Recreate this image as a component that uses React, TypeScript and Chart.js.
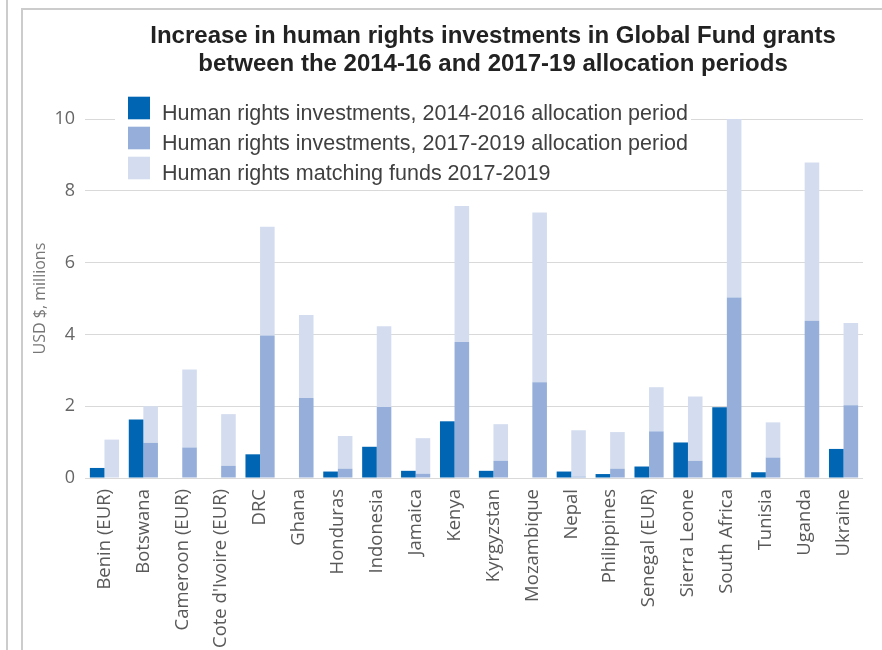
import React, { useEffect, useRef } from "react";
import { Chart, registerables } from "chart.js";

Chart.register(...registerables);

const categories = [
  "Benin (EUR)",
  "Botswana",
  "Cameroon (EUR)",
  "Cote d'Ivoire (EUR)",
  "DRC",
  "Ghana",
  "Honduras",
  "Indonesia",
  "Jamaica",
  "Kenya",
  "Kyrgyzstan",
  "Mozambique",
  "Nepal",
  "Philippines",
  "Senegal (EUR)",
  "Sierra Leone",
  "South Africa",
  "Tunisia",
  "Uganda",
  "Ukraine",
];

const investments2014to2016 = [
  0.28, 1.63, 0, 0, 0.66, 0, 0.18, 0.87, 0.2, 1.58, 0.2, 0, 0.18, 0.11, 0.32, 0.99, 1.97, 0.16, 0, 0.81,
];

const investments2017to2019 = [
  0, 0.98, 0.85, 0.34, 3.97, 2.23, 0.26, 1.98, 0.12, 3.79, 0.48, 2.67, 0.04, 0.26, 1.3, 0.48, 5.03, 0.57, 4.38, 2.03,
];

const matchingFunds2017to2019 = [
  1.07, 1.02, 2.17, 1.44, 3.03, 2.31, 0.91, 2.25, 0.99, 3.79, 1.02, 4.73, 1.29, 1.02, 1.23, 1.79, 4.97, 0.98, 4.41, 2.29,
];

const seriesLabels = [
  "Human rights investments, 2014-2016 allocation period",
  "Human rights investments, 2017-2019 allocation period",
  "Human rights matching funds 2017-2019",
];

const seriesColors = ["#0065b3", "#95afda", "#d4ddef"];

const yTicks = [0, 2, 4, 6, 8, 10];

const titleLines = [
  "Increase in human rights investments in Global Fund grants",
  "between the 2014-16 and 2017-19 allocation periods",
];

const yAxisTitle = "USD $, millions";

const titleShiftPlugin = {
  id: "titleShift",
  afterLayout(chart: any) {
    const t = chart.titleBlock;
    if (t) {
      t.left += 38;
    }
  },
};

const legendPlugin = {
  id: "customLegend",
  afterDraw(chart: any) {
    const ctx = chart.ctx;
    ctx.save();
    ctx.fillStyle = "#ffffff";
    ctx.fillRect(92, 83, 576, 95);
    chart.data.datasets.forEach((ds: any, i: number) => {
      const base = 110 + i * 30;
      ctx.fillStyle = ds.backgroundColor;
      ctx.fillRect(105, base - 23.3, 22, 22.6);
      ctx.fillStyle = "#404040";
      ctx.font = "21.5px 'Liberation Sans', Arial, sans-serif";
      ctx.textBaseline = "alphabetic";
      ctx.textAlign = "left";
      ctx.fillText(ds.label, 139, base);
    });
    ctx.restore();
  },
};

export default function App() {
  const canvasRef = useRef<HTMLCanvasElement | null>(null);

  useEffect(() => {
    if (!canvasRef.current) return;
    const chart = new Chart(canvasRef.current, {
      type: "bar",
      data: {
        labels: categories,
        datasets: [
          {
            label: seriesLabels[0],
            data: investments2014to2016,
            backgroundColor: seriesColors[0],
            stack: "previous",
            borderWidth: 0,
          },
          {
            label: seriesLabels[1],
            data: investments2017to2019,
            backgroundColor: seriesColors[1],
            stack: "current",
            borderWidth: 0,
          },
          {
            label: seriesLabels[2],
            data: matchingFunds2017to2019,
            backgroundColor: seriesColors[2],
            stack: "current",
            borderWidth: 0,
          },
        ],
      },
      options: {
        responsive: false,
        animation: false,
        layout: { padding: { left: 0, right: 19, top: 0, bottom: 0 } },
        datasets: {
          bar: {
            categoryPercentage: 0.75,
            barPercentage: 1.0,
          },
        },
        plugins: {
          legend: { display: false },
          tooltip: { enabled: false },
          title: {
            display: true,
            text: titleLines,
            fullSize: false,
            color: "#222222",
            font: { family: "'Liberation Sans', Arial, sans-serif", size: 24, weight: "bold", lineHeight: 1.19 },
            padding: { top: 12, bottom: 40 },
          },
        },
        scales: {
          x: {
            stacked: true,
            grid: { display: false, drawTicks: false },
            border: { display: false },
            ticks: {
              autoSkip: false,
              maxRotation: 90,
              minRotation: 90,
              padding: 11,
              color: "#595959",
              font: { family: "'Open Sans', sans-serif", size: 18.5 },
            },
            afterFit: (scale: any) => {
              scale.height = 232;
            },
          },
          y: {
            stacked: true,
            min: 0,
            max: 10,
            grid: { color: "#d9d9d9", lineWidth: 1, drawTicks: false },
            border: { display: false },
            afterBuildTicks: (scale: any) => {
              scale.ticks = yTicks.map((v) => ({ value: v }));
            },
            ticks: {
              padding: 10,
              color: "#666666",
              font: { family: "'Open Sans', sans-serif", size: 18 },
            },
            title: {
              display: true,
              text: yAxisTitle,
              color: "#777777",
              font: { family: "'Open Sans', sans-serif", size: 16, lineHeight: 1.2 },
              padding: { top: 8, bottom: 0 },
            },
            afterFit: (scale: any) => {
              scale.width = 62;
            },
          },
        },
      },
      plugins: [titleShiftPlugin, legendPlugin],
    });
    return () => chart.destroy();
  }, []);

  return (
    <div
      style={{
        position: "fixed",
        left: 0,
        top: 0,
        width: 882,
        height: 650,
        overflow: "hidden",
        background: "#ffffff",
      }}
    >
      <div style={{ position: "absolute", left: 6, top: 0, width: 2, height: 650, background: "#cccccc" }} />
      <div
        style={{
          position: "absolute",
          left: 21,
          top: 8,
          width: 861,
          height: 642,
          borderLeft: "2px solid #cccccc",
          borderTop: "2px solid #cccccc",
          boxSizing: "border-box",
        }}
      />
      <canvas
        ref={canvasRef}
        width={859}
        height={700}
        style={{ position: "absolute", left: 23, top: 10, width: 859, height: 700 }}
      />
    </div>
  );
}
